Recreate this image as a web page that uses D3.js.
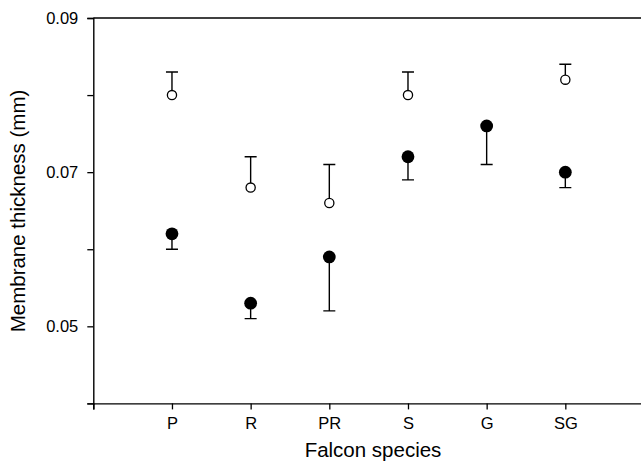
<!DOCTYPE html>
<html>
<head>
<meta charset="utf-8">
<script src="https://cdn.jsdelivr.net/npm/d3@7"></script>
<style>
  body { margin: 0; background: #fff; }
  svg { display: block; font-family: "Liberation Sans", Arial, sans-serif; }
</style>
</head>
<body>
<svg width="641" height="465"></svg>
<script>
// species on the x axis
const species = ["P", "R", "PR", "S", "G", "SG"];
// open circles (upper error only)
const openMean = [0.080, 0.068, 0.066, 0.080, null, 0.082];
const openErr = [0.003, 0.004, 0.005, 0.003, null, 0.002];
// filled circles (lower error only)
const filledMean = [0.062, 0.053, 0.059, 0.072, 0.076, 0.070];
const filledErr = [0.002, 0.002, 0.007, 0.003, 0.005, 0.002];
const yTicks = [0.04, 0.05, 0.06, 0.07, 0.08, 0.09];
const yLabels = [0.05, 0.07, 0.09];

let svg = d3.select("svg");

const x = d3.scaleLinear().domain([0, 7]).range([93.3, 644]);
const y = d3.scaleLinear().domain([0.04, 0.09]).range([403.4, 18]);

// axes
const yAxis = d3.axisLeft(y)
  .tickValues(yTicks)
  .tickSize(6)
  .tickPadding(9)
  .tickFormat((d) => (yLabels.some((v) => Math.abs(v - d) < 1e-9) ? d3.format(".2f")(d) : ""));

const xAxis = d3.axisBottom(x)
  .tickValues(d3.range(0, 8))
  .tickSize(6)
  .tickPadding(8)
  .tickFormat((d) => species[d - 1] || "");

const gy = svg.append("g").attr("transform", `translate(${x(0)},0)`).call(yAxis);
const gx = svg.append("g").attr("transform", `translate(0,${y(0.04)})`).call(xAxis);

[gx, gy].forEach((g) => {
  g.select(".domain").attr("stroke", "#000").attr("stroke-width", 1.4);
  g.selectAll(".tick line").attr("stroke", "#000").attr("stroke-width", 1.3);
  g.selectAll(".tick text").attr("fill", "#000").attr("font-size", "16.5px")
    .attr("font-family", "Liberation Sans, Arial, sans-serif");
});

// top frame line
svg.append("line")
  .attr("x1", x(0)).attr("x2", x(7))
  .attr("y1", y(0.09)).attr("y2", y(0.09))
  .attr("stroke", "#000").attr("stroke-width", 1.4);

// axis titles
svg.append("text")
  .attr("x", 373).attr("y", 457)
  .attr("text-anchor", "middle")
  .attr("font-size", "20.5px")
  .text("Falcon species");

svg.append("text")
  .attr("transform", "translate(25,211) rotate(-90)")
  .attr("text-anchor", "middle")
  .attr("font-size", "20.5px")
  .text("Membrane thickness (mm)");

const plot = svg.append("g");
const cap = 6;

const openData = species.map((s, i) => ({ i: i + 1, m: openMean[i], e: openErr[i] })).filter((d) => d.m != null);
const filledData = species.map((s, i) => ({ i: i + 1, m: filledMean[i], e: filledErr[i] }));

// error bars
plot.selectAll(".err-open")
  .data(openData)
  .enter()
  .append("path")
  .attr("d", (d) => `M${x(d.i)},${y(d.m)}V${y(d.m + d.e)}M${x(d.i) - cap},${y(d.m + d.e)}H${x(d.i) + cap}`)
  .attr("stroke", "#000").attr("stroke-width", 1.4).attr("fill", "none");

plot.selectAll(".err-filled")
  .data(filledData)
  .enter()
  .append("path")
  .attr("d", (d) => `M${x(d.i)},${y(d.m)}V${y(d.m - d.e)}M${x(d.i) - cap},${y(d.m - d.e)}H${x(d.i) + cap}`)
  .attr("stroke", "#000").attr("stroke-width", 1.4).attr("fill", "none");

// points
plot.selectAll(".pt-open")
  .data(openData)
  .enter()
  .append("circle")
  .attr("cx", (d) => x(d.i))
  .attr("cy", (d) => y(d.m))
  .attr("r", 4.6)
  .attr("fill", "#fff")
  .attr("stroke", "#000")
  .attr("stroke-width", 1.3);

plot.selectAll(".pt-filled")
  .data(filledData)
  .enter()
  .append("circle")
  .attr("cx", (d) => x(d.i))
  .attr("cy", (d) => y(d.m))
  .attr("r", 6.4)
  .attr("fill", "#000");
</script>
</body>
</html>
